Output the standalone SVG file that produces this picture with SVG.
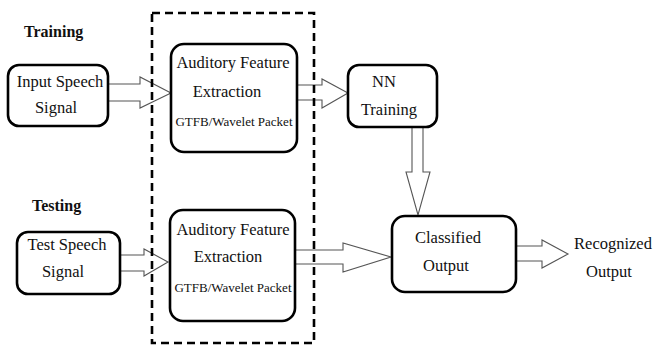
<svg xmlns="http://www.w3.org/2000/svg" width="654" height="349" viewBox="0 0 654 349">
<style>
  .box { fill: #fff; stroke: #000; stroke-width: 2.6; }
  .arr { fill: #fff; stroke: #555; stroke-width: 1.1; stroke-linejoin: miter; }
  .t { font-family: "Liberation Serif", "Times New Roman", serif; font-size: 16.5px; fill: #111; text-anchor: middle; }
  .s { font-family: "Liberation Serif", "Times New Roman", serif; font-size: 13px; fill: #111; text-anchor: middle; }
  .b { font-family: "Liberation Serif", "Times New Roman", serif; font-size: 16px; font-weight: bold; fill: #111; }
  .dash { fill: none; stroke: #000; stroke-width: 2.6; stroke-dasharray: 8 5; }
</style>
<rect width="654" height="349" fill="#fff"/>
<g id="connectors">
  <path class="arr" d="M108,84 H140 V77 L171,93 L140,108 V101 H108"/>
  <path class="arr" d="M297,85 H322 V79 L348,93 L322,108 V100 H297"/>
  <path class="arr" d="M412,127 V172 H406 L418,215 L430,172 H423 V127"/>
  <path class="arr" d="M120,255 H144 V249 L168,262 L144,276 V271 H120"/>
  <path class="arr" d="M295,250 H343 V243 L391,257 L343,272 V264 H295"/>
  <path class="arr" d="M516,246 H542 V240 L568,254 L542,268 V261 H516"/>
</g>
<g id="training-label"><text class="b" x="24" y="37">Training</text></g>
<g id="testing-label"><text class="b" x="32" y="211">Testing</text></g>
<g id="input-speech">
  <rect class="box" x="8" y="65" width="100" height="61" rx="11"/>
  <text class="t" x="60" y="87">Input Speech</text>
  <text class="t" x="56" y="113">Signal</text>
</g>
<g id="afe-train">
  <rect class="box" x="171" y="44" width="126" height="108" rx="13"/>
  <text class="t" x="233" y="68">Auditory Feature</text>
  <text class="t" x="227" y="97">Extraction</text>
  <text class="s" x="234" y="126">GTFB/Wavelet Packet</text>
</g>
<g id="nn-training">
  <rect class="box" x="348" y="65" width="89" height="62" rx="11"/>
  <text class="t" x="384" y="87">NN</text>
  <text class="t" x="389" y="115">Training</text>
</g>
<g id="test-speech">
  <rect class="box" x="17" y="232" width="103" height="62" rx="11"/>
  <text class="t" x="67" y="250">Test Speech</text>
  <text class="t" x="63" y="277">Signal</text>
</g>
<g id="afe-test">
  <rect class="box" x="170" y="210" width="125" height="111" rx="13"/>
  <text class="t" x="233" y="235">Auditory Feature</text>
  <text class="t" x="228" y="262">Extraction</text>
  <text class="s" x="233" y="292">GTFB/Wavelet Packet</text>
</g>
<g id="classified">
  <rect class="box" x="392" y="216" width="124" height="76" rx="13"/>
  <text class="t" x="448" y="243">Classified</text>
  <text class="t" x="446" y="271">Output</text>
</g>
<g id="recognized">
  <text class="t" x="613" y="249">Recognized</text>
  <text class="t" x="609" y="277">Output</text>
</g>
<g id="feature-group">
  <rect class="dash" x="152" y="13" width="162" height="330"/>
</g>
</svg>
